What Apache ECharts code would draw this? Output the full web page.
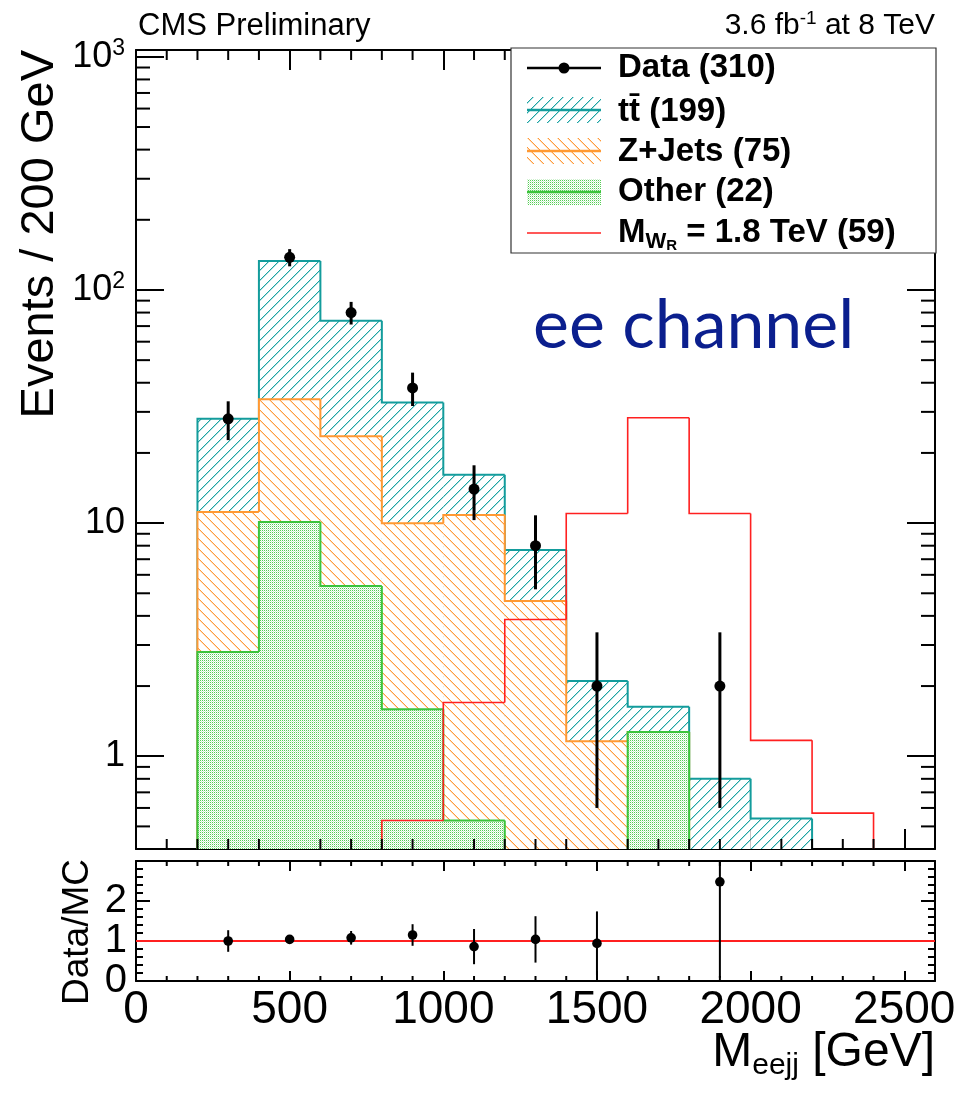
<!DOCTYPE html>
<html>
<head>
<meta charset="utf-8">
<script src="https://cdn.jsdelivr.net/npm/echarts@6/dist/echarts.min.js"></script>
<style>
  html, body { margin: 0; padding: 0; background: #fff; }
  #chart { width: 963px; height: 1099px; }
</style>
</head>
<body>
<div id="chart"></div>
<script>
// ---- Histogram content: M_eejj, 200 GeV bins ----
const binEdges = [200, 400, 600, 800, 1000, 1200, 1400, 1600, 1800, 2000, 2200, 2400];
// expected events per bin
const ttbar  = [16.9, 99.0, 50.3, 22.9, 5.3, 3.03, 0.94, 0.36, 0.80, 0.54, 0];
const zjets  = [8.35, 23.9, 18.2, 8.4, 10.3, 4.63, 1.16, 0, 0, 0, 0];
const other  = [2.8, 10.1, 5.37, 1.59, 0.53, 0, 0, 1.27, 0, 0, 0];
// W_R signal, M = 1.8 TeV (not stacked)
const signal = [0, 0, 0, 0.53, 1.70, 3.86, 11.0, 28.3, 11.0, 1.17, 0.57];

// observed events at bin centres
const dataX   = [300, 500, 700, 900, 1100, 1300, 1500, 1900];
const dataY   = [28, 138, 80, 38, 14, 8, 2, 2];
const dataErr = [5.3, 11.7, 8.9, 6.2, 3.7, 2.8, 1.4, 1.4];

// data / MC ratio
const ratioY   = [1.00, 1.04, 1.08, 1.15, 0.86, 1.04, 0.94, 2.48];
const ratioErr = [0.27, 0.10, 0.17, 0.27, 0.44, 0.58, 0.80, 2.40];

// tick values
const xMinorTicks = [100, 200, 300, 400, 600, 700, 800, 900, 1100, 1200, 1300, 1400,
                     1600, 1700, 1800, 1900, 2100, 2200, 2300, 2400];
const logMinorTicks = [0.5, 0.6, 0.7, 0.8, 0.9, 2, 3, 4, 5, 6, 7, 8, 9,
                       20, 30, 40, 50, 60, 70, 80, 90, 200, 300, 400, 500, 600, 700, 800, 900];

// legend entries
const legendLabels = {
  data: 'Data (310)', tt: 'tt\u0304 (199)', zj: 'Z+Jets (75)', other: 'Other (22)'
};

const Y_MIN = 0.4, Y_MAX = 1070;
const R_MIN = 0, R_MAX = 3;
const FONT = '"Liberation Sans", Arial, Helvetica, sans-serif';

const TEAL = '#139c9c', ORANGE = '#ff9933', GREEN = '#3cc43c', RED = '#ff2020';

// stacked tops
const stackOther = other.slice();
const stackZ = zjets.map((v, i) => v + other[i]);
const stackAll = ttbar.map((v, i) => v + zjets[i] + other[i]);

// ---- fill patterns (pixel tiles) ----
function hatchPattern(main, light, forward) {
  const s = 10;
  const c = document.createElement('canvas');
  c.width = s; c.height = s;
  const g = c.getContext('2d');
  g.fillStyle = '#ffffff'; g.fillRect(0, 0, s, s);
  for (let i = 0; i < s; i++) {
    const y = forward ? s - 1 - i : i;
    g.fillStyle = main;  g.fillRect(i, y, 1, 1);
    g.fillStyle = light; g.fillRect(i, (y + 1) % s, 1, 1);
  }
  return { image: c, repeat: 'repeat' };
}
function dotPattern(dark, light) {
  const c = document.createElement('canvas');
  c.width = 2; c.height = 2;
  const g = c.getContext('2d');
  g.fillStyle = '#ffffff'; g.fillRect(0, 0, 2, 2);
  g.fillStyle = dark;  g.fillRect(0, 0, 1, 1);
  g.fillStyle = light; g.fillRect(1, 1, 1, 1);
  return { image: c, repeat: 'repeat' };
}
const ttFill = hatchPattern('#1aa3a3', '#b0dede', true);
const zjFill = hatchPattern('#ff9a3c', '#ffdcb8', false);
const otherFill = dotPattern('#55cc55', '#cdf1cd');

// ---- step histogram drawn bin by bin ----
function stepHistogram(name, tops, stroke, width, fill, z) {
  const data = tops.map((v, i) => [binEdges[i], binEdges[i + 1], v,
                                   i > 0 ? tops[i - 1] : 0, i === tops.length - 1 ? 1 : 0]);
  return {
    type: 'custom', name, xAxisIndex: 0, yAxisIndex: 0, z, silent: true,
    encode: { x: [0, 1], y: 2 },
    data,
    renderItem(params, api) {
      const x0 = api.value(0), x1 = api.value(1), v = api.value(2), pv = api.value(3), last = api.value(4);
      if (v <= 0 && pv <= 0) return { type: 'group', children: [] };
      const cl = t => Math.max(t, Y_MIN);
      const pTop = api.coord([x0, cl(v)]);
      const pBot = api.coord([x1, Y_MIN]);
      const yPrev = api.coord([x0, cl(pv)])[1];
      const children = [];
      if (fill && v > 0) {
        children.push({ type: 'rect',
          shape: { x: pTop[0], y: pTop[1], width: pBot[0] - pTop[0], height: pBot[1] - pTop[1] },
          style: { fill } });
      }
      // empty bin: only the drop from the previous bin
      const pts = v > 0 ? [[pTop[0], yPrev], [pTop[0], pTop[1]], [pBot[0], pTop[1]]]
                        : [[pTop[0], yPrev], [pTop[0], pBot[1]]];
      if (last && v > 0) pts.push([pBot[0], pBot[1]]);
      children.push({ type: 'polyline', shape: { points: pts },
        style: { stroke, lineWidth: width, fill: null } });
      return { type: 'group', children };
    }
  };
}

// points with vertical error bars
function pointSeries(xs, ys, es, xi, yi, lo, hi, r, w, z) {
  return {
    type: 'custom', xAxisIndex: xi, yAxisIndex: yi, z, silent: true,
    encode: { x: 0, y: 1 },
    data: xs.map((x, i) => [x, ys[i], es[i]]),
    renderItem(params, api) {
      const x = api.value(0), y = api.value(1), e = api.value(2);
      const c = api.coord([x, y]);
      const a = api.coord([x, Math.max(y - e, lo)]);
      const b = api.coord([x, Math.min(y + e, hi)]);
      return { type: 'group', children: [
        { type: 'line', shape: { x1: c[0], y1: a[1], x2: c[0], y2: b[1] },
          style: { stroke: '#000', lineWidth: w } },
        { type: 'circle', shape: { cx: c[0], cy: c[1], r }, style: { fill: '#000' } }
      ] };
    }
  };
}

// minor ticks on both sides of a frame
function minorTicks(values, horizontal, xi, yi, refValue, len) {
  return {
    type: 'custom', xAxisIndex: xi, yAxisIndex: yi, z: 20, silent: true,
    encode: { x: 0, y: 1 },
    data: values.map(v => horizontal ? [v, refValue] : [refValue, v]),
    renderItem(params, api) {
      const cs = params.coordSys;
      const p = api.coord([api.value(0), api.value(1)]);
      const st = { stroke: '#000', lineWidth: 2 };
      if (horizontal) {
        const yb = cs.y + cs.height, yt = cs.y;
        return { type: 'group', children: [
          { type: 'line', shape: { x1: p[0], y1: yb, x2: p[0], y2: yb - len }, style: st },
          { type: 'line', shape: { x1: p[0], y1: yt, x2: p[0], y2: yt + len }, style: st }
        ] };
      }
      const xl = cs.x, xr = cs.x + cs.width;
      return { type: 'group', children: [
        { type: 'line', shape: { x1: xl, y1: p[1], x2: xl + len, y2: p[1] }, style: st },
        { type: 'line', shape: { x1: xr, y1: p[1], x2: xr - len, y2: p[1] }, style: st }
      ] };
    }
  };
}

const axisLine = { show: true, onZero: false, lineStyle: { color: '#000', width: 2 } };

function mainXAxis(pos) {
  return { type: 'value', gridIndex: 0, position: pos, min: 0, max: 2600, interval: 500,
    axisLine, axisTick: { show: true, inside: true, length: 20, lineStyle: { color: '#000', width: 2 } },
    axisLabel: { show: false }, splitLine: { show: false } };
}
function ratioXAxis(pos, labels) {
  return { type: 'value', gridIndex: 1, position: pos, min: 0, max: 2600, interval: 500,
    axisLine, axisTick: { show: true, inside: true, length: 10, lineStyle: { color: '#000', width: 2 } },
    axisLabel: labels ? {
      show: true, margin: 6, fontSize: 46, fontFamily: FONT, color: '#000',
      formatter: v => (v % 500 === 0 ? String(v) : '')
    } : { show: false },
    splitLine: { show: false } };
}
function mainYAxis(pos, labels) {
  return { type: 'log', logBase: 10, gridIndex: 0, position: pos, min: Y_MIN, max: Y_MAX,
    axisLine, axisTick: { show: true, inside: true, length: 28, lineStyle: { color: '#000', width: 2 } },
    minorTick: { show: false },
    axisLabel: labels ? {
      show: true, margin: 11, color: '#000',
      formatter: v => {
        const e = Math.log10(v), r = Math.round(e);
        if (Math.abs(e - r) > 1e-6) return '';
        if (r === 0) return '{b|1}';
        if (r === 1) return '{b|10}';
        return '{b|10}{s|' + r + '}';
      },
      rich: {
        b: { fontSize: 36, fontFamily: FONT, color: '#000', lineHeight: 40 },
        s: { fontSize: 23, fontFamily: FONT, color: '#000', lineHeight: 26, verticalAlign: 'top' }
      }
    } : { show: false },
    splitLine: { show: false } };
}
function ratioYAxis(pos, labels) {
  return { type: 'value', gridIndex: 1, position: pos, min: R_MIN, max: R_MAX, interval: 1,
    axisLine, axisTick: { show: true, inside: true, length: 14, lineStyle: { color: '#000', width: 2 } },
    minorTick: { show: true, splitNumber: 5, length: 7, lineStyle: { color: '#000', width: 2 } },
    axisLabel: labels ? {
      show: true, margin: 9, fontSize: 40, fontFamily: FONT, color: '#000',
      formatter: v => (v < R_MAX ? String(v) : '')
    } : { show: false },
    splitLine: { show: false } };
}

// ---- legend + titles ----
const LX0 = 527, LX1 = 601, LTX = 618;
const legendFont = { fontSize: 33, fontWeight: 'bold', fontFamily: FONT, fill: '#000' };
function legendText(text, y) {
  return { type: 'text', x: LTX, y, z: 101,
    style: Object.assign({ text, verticalAlign: 'middle', textVerticalAlign: 'middle' }, legendFont) };
}
function legendBox(fillPat, color, y) {
  return [
    { type: 'rect', z: 101, shape: { x: LX0, y: y - 13, width: LX1 - LX0, height: 26 }, style: { fill: fillPat } },
    { type: 'line', z: 102, shape: { x1: LX0, y1: y, x2: LX1, y2: y }, style: { stroke: color, lineWidth: 2.5 } }
  ];
}

const graphic = [
  { type: 'text', x: 138, y: 26, z: 100,
    style: { text: 'CMS Preliminary', fontSize: 31, fontFamily: FONT, fill: '#000',
             verticalAlign: 'middle', textVerticalAlign: 'middle' } },
  { type: 'text', x: 935, y: 26, z: 100,
    style: { text: '{n|3.6 fb}{s|-1}{n| at 8 TeV}', align: 'right', textAlign: 'right',
             verticalAlign: 'middle', textVerticalAlign: 'middle',
             rich: { n: { fontSize: 30, fontFamily: FONT, fill: '#000', color: '#000', lineHeight: 34 },
                     s: { fontSize: 19, fontFamily: FONT, fill: '#000', color: '#000', lineHeight: 20, verticalAlign: 'top' } } } },
  // legend frame
  { type: 'rect', z: 100, shape: { x: 511, y: 48, width: 425, height: 205 },
    style: { fill: '#fff', stroke: '#333', lineWidth: 1.2 } },
  { type: 'line', z: 101, shape: { x1: LX0, y1: 68, x2: LX1, y2: 68 }, style: { stroke: '#000', lineWidth: 2.5 } },
  { type: 'circle', z: 102, shape: { cx: (LX0 + LX1) / 2, cy: 68, r: 5.5 }, style: { fill: '#000' } },
  legendText(legendLabels.data, 68),
  ...legendBox(ttFill, TEAL, 110),
  legendText(legendLabels.tt, 112),
  ...legendBox(zjFill, ORANGE, 151),
  legendText(legendLabels.zj, 152),
  ...legendBox(otherFill, GREEN, 192),
  legendText(legendLabels.other, 192),
  { type: 'line', z: 101, shape: { x1: LX0, y1: 233, x2: LX1, y2: 233 }, style: { stroke: RED, lineWidth: 1.5 } },
  { type: 'text', x: LTX, y: 233, z: 101,
    style: { text: '{b|M}{w|W}{r|R}{b| = 1.8 TeV (59)}', verticalAlign: 'middle', textVerticalAlign: 'middle',
      rich: {
        b: { fontSize: 33, fontWeight: 'bold', fontFamily: FONT, color: '#000', fill: '#000', lineHeight: 40 },
        w: { fontSize: 22, fontWeight: 'bold', fontFamily: FONT, color: '#000', fill: '#000', lineHeight: 26, verticalAlign: 'bottom' },
        r: { fontSize: 15, fontWeight: 'bold', fontFamily: FONT, color: '#000', fill: '#000', lineHeight: 15, verticalAlign: 'bottom' }
      } } },
  // channel tag
  { type: 'text', x: 533, y: 326, z: 100,
    style: { text: 'ee channel', fontSize: 68, fontFamily: 'Lato, "Open Sans", sans-serif', fill: '#0b1f8e',
             verticalAlign: 'middle', textVerticalAlign: 'middle' } },
  // axis titles
  { type: 'text', x: 40, y: 50, z: 100, rotation: Math.PI / 2,
    style: { text: 'Events / 200 GeV', fontSize: 47, fontFamily: FONT, fill: '#000',
             align: 'right', textAlign: 'right', verticalAlign: 'middle', textVerticalAlign: 'middle' } },
  { type: 'text', x: 78, y: 859, z: 100, rotation: Math.PI / 2,
    style: { text: 'Data/MC', fontSize: 37, fontFamily: FONT, fill: '#000',
             align: 'right', textAlign: 'right', verticalAlign: 'middle', textVerticalAlign: 'middle' } },
  { type: 'text', x: 935, y: 1053, z: 100,
    style: { text: '{b|M}{s|eejj}{b| [GeV]}', align: 'right', textAlign: 'right',
             verticalAlign: 'middle', textVerticalAlign: 'middle',
             rich: { b: { fontSize: 48, fontFamily: FONT, color: '#000', fill: '#000', lineHeight: 56 },
                     s: { fontSize: 30, fontFamily: FONT, color: '#000', fill: '#000', lineHeight: 30, verticalAlign: 'bottom' } } } }
];

const option = {
  animation: false,
  backgroundColor: '#fff',
  grid: [
    { left: 136, right: 28, top: 50, height: 799, containLabel: false, outerBoundsMode: 'none' },
    { left: 136, right: 28, top: 861, height: 120, containLabel: false, outerBoundsMode: 'none' }
  ],
  xAxis: [mainXAxis('bottom'), mainXAxis('top'), ratioXAxis('bottom', true), ratioXAxis('top', false)],
  yAxis: [mainYAxis('left', true), mainYAxis('right', false), ratioYAxis('left', true), ratioYAxis('right', false)],
  series: [
    stepHistogram('ttbar', stackAll, TEAL, 2, ttFill, 2),
    stepHistogram('Z+Jets', stackZ, ORANGE, 2, zjFill, 3),
    stepHistogram('Other', stackOther, GREEN, 2, otherFill, 4),
    stepHistogram('signal', signal, RED, 1.6, null, 5),
    pointSeries(dataX, dataY, dataErr, 0, 0, Y_MIN, Y_MAX, 5.5, 3, 8),
    minorTicks(xMinorTicks, true, 0, 0, 1, 10),
    minorTicks(logMinorTicks, false, 0, 0, 100, 14),
    // ratio panel
    { type: 'line', xAxisIndex: 2, yAxisIndex: 2, z: 3, silent: true, symbol: 'none',
      data: [[0, 1], [2600, 1]], lineStyle: { color: RED, width: 2 } },
    pointSeries(dataX, ratioY, ratioErr, 2, 2, R_MIN, R_MAX, 4.8, 2, 8),
    minorTicks(xMinorTicks, true, 2, 2, 1, 5)
  ],
  graphic
};

const chart = echarts.init(document.getElementById('chart'), null, { renderer: 'canvas' });
chart.setOption(option);
</script>
</body>
</html>
